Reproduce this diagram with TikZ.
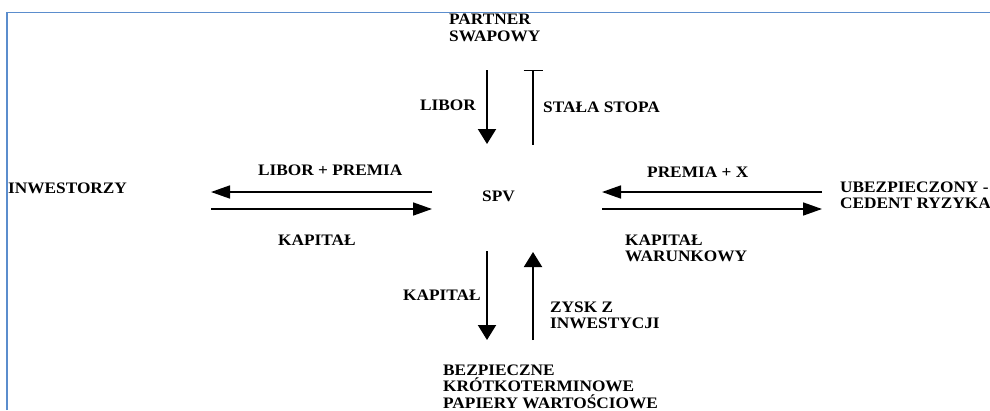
\documentclass[tikz,border=0pt]{standalone}
\usepackage{fontspec}
\setmainfont{Liberation Serif}[FakeStretch=1.08]
\usetikzlibrary{arrows.meta}
\definecolor{frameblue}{RGB}{91,141,205}
\tikzset{
  lbl/.style={anchor=north west, inner sep=0pt, align=left, font=\fontsize{16}{16.5}\selectfont\bfseries},
  harrow/.style={line width=1.6pt, -{Triangle[length=19pt,width=13pt]}},
  varrow/.style={line width=2pt, -{Triangle[length=15pt,width=18pt]}},
}
\begin{document}
\begin{tikzpicture}[x=1pt,y=-1pt]
\useasboundingbox (0,0) rectangle (990,410);
\fill[white] (0,0) rectangle (990,410);
% frame
\draw[frameblue, line width=1.6pt] (7,410) -- (7,12.5) -- (990,12.5);
% labels
\node[lbl] (partner) at (449,14) {PARTNER\\SWAPOWY};
\node[lbl] (libor) at (420,99.5) {LIBOR};
\node[lbl] (stala) at (543,101.5) {STAŁA STOPA};
\node[lbl] (spv) at (482,190.5) {SPV};
\node[lbl] (inw) at (8,182.5) {INWESTORZY};
\node[lbl] (lp) at (258,164.5) {LIBOR + PREMIA};
\node[lbl] (kap1) at (278,234.5) {KAPITAŁ};
\node[lbl] (px) at (647,166.5) {PREMIA + X};
\node[lbl] (ubez) at (840,181.5) {UBEZPIECZONY -\\CEDENT RYZYKA};
\node[lbl] (kapw) at (625,234.5) {KAPITAŁ\\WARUNKOWY};
\node[lbl] (kap2) at (403,289.5) {KAPITAŁ};
\node[lbl] (zysk) at (550,301.5) {ZYSK Z\\INWESTYCJI};
\node[lbl] (bezp) at (443,364.5) {BEZPIECZNE\\KRÓTKOTERMINOWE\\PAPIERY WARTOŚCIOWE};
% arrow end points
\coordinate (a1s) at (487,70);  \coordinate (a1e) at (487,144);
\coordinate (a2s) at (533,70);  \coordinate (a2e) at (533,145);
\coordinate (a3s) at (432,192); \coordinate (a3e) at (211,192);
\coordinate (a4s) at (211,209); \coordinate (a4e) at (432,209);
\coordinate (a5s) at (822,192); \coordinate (a5e) at (602,192);
\coordinate (a6s) at (602,209); \coordinate (a6e) at (822,209);
\coordinate (a7s) at (487,251); \coordinate (a7e) at (487,340);
\coordinate (a8s) at (533,340); \coordinate (a8e) at (533,252);
% arrows
\draw[varrow] (a1s) -- (a1e);
\draw[line width=1.6pt, {Bar[width=19pt,line width=1pt]}-] (a2s) -- (a2e);
\draw[harrow] (a3s) -- (a3e);
\draw[harrow] (a4s) -- (a4e);
\draw[harrow] (a5s) -- (a5e);
\draw[harrow] (a6s) -- (a6e);
\draw[varrow] (a7s) -- (a7e);
\draw[varrow] (a8s) -- (a8e);
\end{tikzpicture}
\end{document}
